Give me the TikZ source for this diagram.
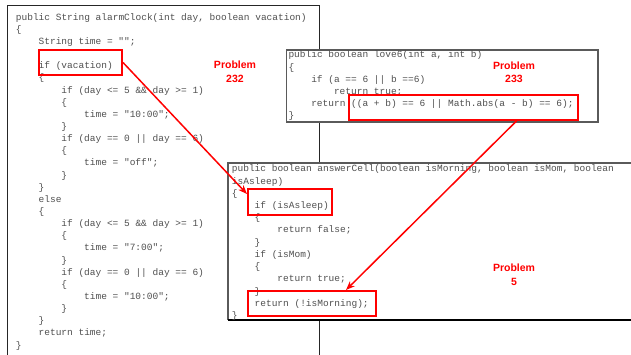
\documentclass[tikz,border=0pt]{standalone}
\usepackage{fontspec}
\setmonofont{Liberation Mono}
\newfontfamily\probfont{Liberation Sans}
\usetikzlibrary{arrows.meta}
\definecolor{codegray}{RGB}{80,80,80}
\definecolor{boxgray}{RGB}{90,90,90}
\definecolor{pred}{RGB}{255,0,0}
\tikzset{
  code/.style={anchor=base west, inner sep=0pt, font=\ttfamily\fontsize{9.5}{12}\selectfont, text=codegray},
  codebox/.style={fill=white, line width=1pt},
  redbox/.style={draw=pred, line width=2pt, inner sep=0pt, fill=none},
  prob/.style={font=\probfont\bfseries\fontsize{10.5}{13.5}\selectfont, text=pred, align=center, inner sep=0pt},
  arr/.style={draw=pred, line width=1.5pt, -{Stealth[length=9pt,width=7pt]}},
}
\begin{document}
\begin{tikzpicture}[x=1pt,y=-1pt]
\useasboundingbox (0,0) rectangle (631,355);
% left box
\draw[codebox, draw=black!85] (319,362) -- (319,6) -- (7,6) -- (7,362);
% love6 box
\draw[codebox, draw=boxgray, line width=1.2pt] (286.5,50) rectangle (598,122);
% answerCell box
\fill[white] (228,163) rectangle (640,320);
\draw[draw=boxgray, line width=1.2pt] (640,163) -- (228,163) -- (228,320);
\draw[black, line width=1.2pt] (228,320) -- (640,320);

% left code
\foreach \i/\ind/\txt in {
 0/0/{public String alarmClock(int day, boolean vacation)},
 1/0/{\{},
 2/4/{String time = "";},
 4/4/{if (vacation)},
 5/4/{\{},
 6/8/{if (day <= 5 \&\& day >= 1)},
 7/8/{\{},
 8/12/{time = "10:00";},
 9/8/{\}},
 10/8/{if (day == 0 || day == 6)},
 11/8/{\{},
 12/12/{time = "off";},
 13/8/{\}},
 14/4/{\}},
 15/4/{else},
 16/4/{\{},
 17/8/{if (day <= 5 \&\& day >= 1)},
 18/8/{\{},
 19/12/{time = "7:00";},
 20/8/{\}},
 21/8/{if (day == 0 || day == 6)},
 22/8/{\{},
 23/12/{time = "10:00";},
 24/8/{\}},
 25/4/{\}},
 26/4/{return time;},
 27/0/{\}}}
  \node[code] (L\i) at ({15.7+\ind*5.69},{20.3+12.14*\i}) {\txt};

% love6 code
\foreach \i/\ind/\txt in {
 0/0/{public boolean love6(int a, int b)},
 1/0/{\{},
 2/4/{if (a == 6 || b ==6)},
 3/8/{return true;},
 4/4/{return ((a + b) == 6 || Math.abs(a - b) == 6);},
 5/0/{\}}}
  \node[code] (M\i) at ({288.3+\ind*5.69},{58+12.2*\i}) {\txt};

% answerCell code
\foreach \i/\ind/\txt in {
 0/0/{public boolean answerCell(boolean isMorning, boolean isMom, boolean},
 1/0/{isAsleep)},
 2/0/{\{},
 3/4/{if (isAsleep)},
 4/4/{\{},
 5/8/{return false;},
 6/4/{\}},
 7/4/{if (isMom)},
 8/4/{\{},
 9/8/{return true;},
 10/4/{\}},
 11/4/{return (!isMorning);},
 12/0/{\}}}
  \node[code] (A\i) at ({231.7+\ind*5.69},{172+12.2*\i}) {\txt};

% red boxes
\node[redbox, minimum width=83pt, minimum height=25pt] (rb1) at (80.5,62.5) {};
\node[redbox, minimum width=229pt, minimum height=25pt] (rb2) at (463.5,107.5) {};
\node[redbox, minimum width=84pt, minimum height=26pt] (rb3) at (290,202) {};
\node[redbox, minimum width=128pt, minimum height=25pt] (rb4) at (312,303.5) {};

% problem labels
\node[prob] (p232) at (235,72) {Problem\\232};
\node[prob] (p233) at (514,72.5) {Problem\\233};
\node[prob] (p5) at (514,274.5) {Problem\\5};

% arrows
\draw[arr] (rb1.east) -- ([yshift=-6pt]rb3.north west);
\draw[arr] ([xshift=53pt]rb2.south) -- ([xshift=-31pt]rb4.north east);
\end{tikzpicture}
\end{document}
